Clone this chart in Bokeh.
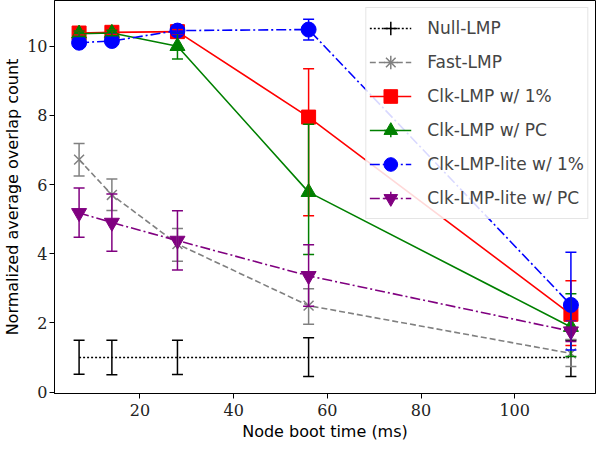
import math
from bokeh.plotting import figure
from bokeh.models import (ColumnDataSource, Whisker, TeeHead, Legend, LegendItem,
                          Range1d, FixedTicker)
from bokeh.embed import file_html
from bokeh.resources import INLINE

# ---------------- data ----------------
boot_time = [7, 14, 28, 56, 112]

names = ["Null-LMP", "Fast-LMP", "Clk-LMP w/ 1%", "Clk-LMP w/ PC",
         "Clk-LMP-lite w/ 1%", "Clk-LMP-lite w/ PC"]

null_y = [1.0, 1.0, 1.0, 1.0, 1.0]
null_lo = [0.48, 0.50, 0.49, 0.55, 0.55]
null_hi = [0.50, 0.50, 0.50, 0.57, 0.50]

fast_y = [6.72, 5.70, 4.28, 2.50, 1.12]
fast_lo = [0.47, 0.45, 0.50, 0.54, 0.38]
fast_hi = [0.47, 0.46, 0.45, 0.49, 0.40]

clk1_y = [10.38, 10.40, 10.42, 7.95, 2.25]
clk1_lo = [0.06, 0.06, 0.06, 2.85, 0.90]
clk1_hi = [0.06, 0.06, 0.06, 1.40, 0.97]

clkpc_y = [10.36, 10.38, 10.00, 5.78, 1.88]
clkpc_lo = [0.08, 0.08, 0.37, 1.80, 0.85]
clkpc_hi = [0.08, 0.08, 0.37, 1.96, 0.96]

lite1_y = [10.10, 10.15, 10.45, 10.48, 2.52]
lite1_lo = [0.05, 0.05, 0.08, 0.30, 1.30]
lite1_hi = [0.05, 0.05, 0.08, 0.30, 1.52]

litepc_y = [5.18, 4.90, 4.38, 3.36, 1.76]
litepc_lo = [0.70, 0.83, 0.85, 0.88, 0.30]
litepc_hi = [0.72, 0.83, 0.86, 0.90, 0.30]

ys = [null_y, fast_y, clk1_y, clkpc_y, lite1_y, litepc_y]
los = [null_lo, fast_lo, clk1_lo, clkpc_lo, lite1_lo, litepc_lo]
his = [null_hi, fast_hi, clk1_hi, clkpc_hi, lite1_hi, litepc_hi]

colors = ["black", "gray", "red", "green", "blue", "purple"]
dashes = ["2 2", "6 3", "solid", "solid", "10 3 2 3", "10 3 2 3"]
markers = [None, "x", "square", "triangle", "circle", "inverted_triangle"]
msizes = [0, 14, 14, 15, 15, 15]

x_ticks = [20, 40, 60, 80, 100]
y_ticks = [0, 2, 4, 6, 8, 10]

# ---------------- figure ----------------
p = figure(width=597, height=443, output_backend="svg", toolbar_location=None,
           x_range=Range1d(1.75, 117.25), y_range=Range1d(-0.04, 11.32),
           min_border_left=50, min_border_right=2, min_border_top=0,
           min_border_bottom=50)
p.xgrid.visible = False
p.ygrid.visible = False
p.outline_line_color = "black"
p.outline_line_width = 1
p.background_fill_color = "white"

p.xaxis.ticker = FixedTicker(ticks=x_ticks)
p.yaxis.ticker = FixedTicker(ticks=y_ticks)
for ax in (p.xaxis[0], p.yaxis[0]):
    ax.axis_line_color = "black"
    ax.major_tick_in = 0
    ax.major_tick_out = 5
    ax.minor_tick_line_color = None
    ax.major_label_text_font = "DejaVu Serif"
    ax.major_label_text_font_size = "16px"
    ax.major_label_text_color = "#222222"
    ax.axis_label_text_font = "DejaVu Sans"
    ax.axis_label_text_font_size = "16px"
    ax.axis_label_text_font_style = "normal"
    ax.axis_label_text_color = "black"
p.xaxis[0].major_label_standoff = 5
p.xaxis[0].axis_label_standoff = 3
p.yaxis[0].major_label_standoff = 2
p.yaxis[0].axis_label_standoff = 2
p.xaxis[0].axis_label = "Node boot time (ms)"
p.yaxis[0].axis_label = "Normalized average overlap count"

nan = float("nan")
items = []
for i, name in enumerate(names):
    y = ys[i]
    lower = [v - e for v, e in zip(y, los[i])]
    upper = [v + e for v, e in zip(y, his[i])]
    src = ColumnDataSource(dict(x=boot_time, y=y, lower=lower, upper=upper))
    c = colors[i]
    lr = p.line("x", "y", source=src, line_color=c, line_width=1.6,
                line_dash=dashes[i])
    wh = Whisker(source=src, base="x", lower="lower", upper="upper",
                 line_color=c, line_width=1.5, level="glyph",
                 upper_head=TeeHead(size=11, line_color=c, line_width=1.5),
                 lower_head=TeeHead(size=11, line_color=c, line_width=1.5))
    p.add_layout(wh)
    # legend-only error-bar glyph (a NaN point is never drawn in the plot)
    eb = p.scatter(x=[nan], y=[nan], marker="cross", line_color=c,
                   line_width=1.5, size=10)
    rends = [lr, eb]
    if markers[i] is not None:
        if markers[i] == "x":
            mr = p.scatter("x", "y", source=src, marker="x", size=msizes[i],
                           line_color=c, line_width=1.5)
        else:
            mr = p.scatter("x", "y", source=src, marker=markers[i],
                           size=msizes[i], fill_color=c, line_color=c)
        rends.append(mr)
    items.append(LegendItem(label=name, renderers=rends))

legend = Legend(items=items, location="top_right")
legend.label_text_font = "DejaVu Sans"
legend.label_text_font_size = "17px"
legend.glyph_width = 42
legend.glyph_height = 34
legend.spacing = -6
legend.padding = 3
legend.margin = 7
legend.label_standoff = 16
legend.border_line_color = "#cccccc"
legend.border_line_width = 1
legend.background_fill_alpha = 0.85
p.add_layout(legend)

open("out.html", "w").write(file_html(p, INLINE))
